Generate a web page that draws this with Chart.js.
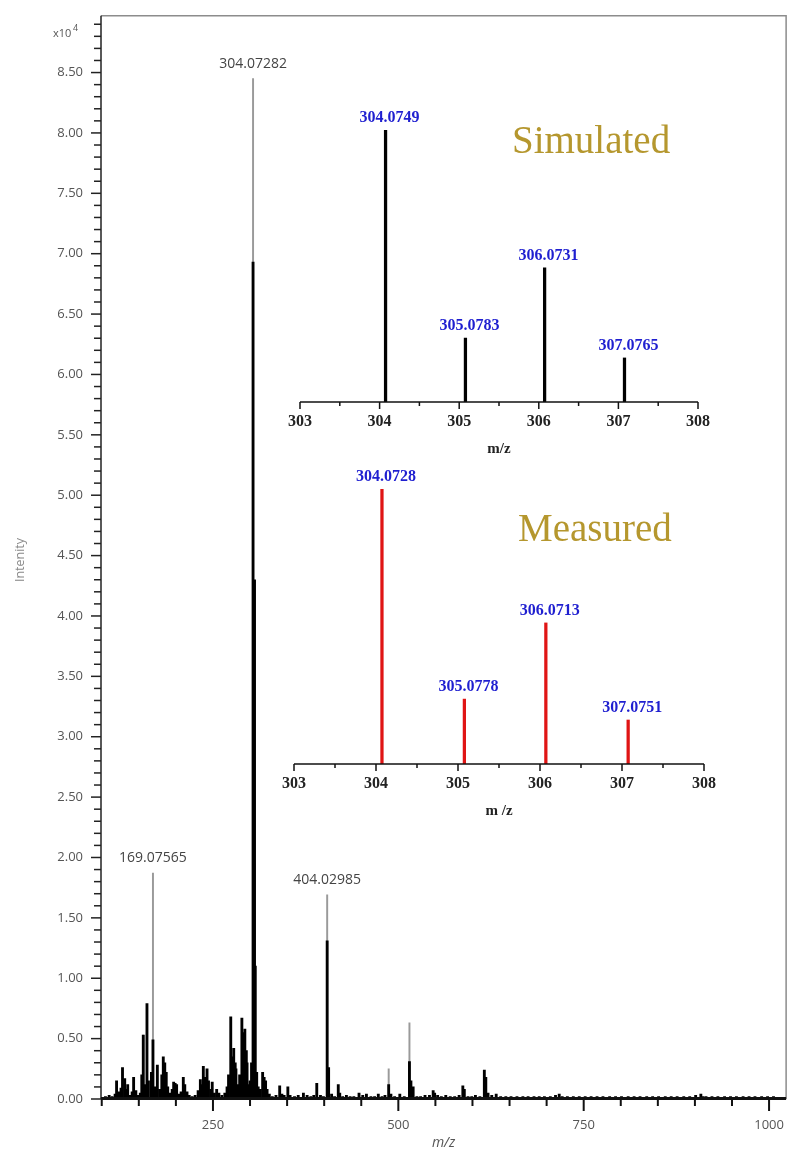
<!DOCTYPE html>
<html><head><meta charset="utf-8">
<script src="https://cdn.jsdelivr.net/npm/chart.js@4/dist/chart.umd.min.js"></script>
<style>
html,body{margin:0;padding:0;background:#fff;}
#wrap{position:relative;width:790px;height:1158px;overflow:hidden;}
canvas{position:absolute;}
</style></head><body>
<div id="wrap">
<canvas id="main" width="790" height="1158" style="left:0;top:0;width:790px;height:1158px"></canvas>
<canvas id="sim" width="460" height="370" style="left:270px;top:90px;width:460px;height:370px"></canvas>
<canvas id="meas" width="470" height="380" style="left:264px;top:450px;width:470px;height:380px"></canvas>
</div>
<script>
// ---------- DATA (intensity in units of 10^4) ----------
const mainMz = [105,110,114,118,120,123,126,128,131,133,135,138,141,143,146,149,152,154,156,158,161,163,167,169.08,172,175,178,181,183,185,187,189,192,195,197,199,201,204,207,210,212,215,218,222,226,230,233,235,237,239,242,244,247,249,252,255,258,262,266,269,271,274,276,278,280,281,284,286,289,291,293,295,296,298,300,302,304.07,305.08,306.07,307.08,309,311,314,317,319,321,323,326,330,335,340,343,346,351,354,360,365,372,377,382,386,390,395,399,404.03,406,410,414,419,421,425,430,435,440,447,452,457,463,468,473,478,482,487,490,495,502,508,515,517,520,525,530,536,542,547,549,553,558,564,570,576,582,587,589,594,599,604,610,616,618,621,626,632,638,645,652,660,668,675,683,690,697,705,712,717,721,728,736,744,752,760,768,776,785,793,801,810,818,826,835,843,851,860,868,876,885,893,901,908,911,915,923,931,940,948,956,965,973,981,990,998,1006,1014];
const mainInt = [0.02,0.03,0.02,0.04,0.15,0.06,0.09,0.26,0.17,0.08,0.12,0.03,0.06,0.18,0.07,0.03,0.05,0.20,0.53,0.12,0.79,0.15,0.22,0.49,0.10,0.28,0.08,0.20,0.35,0.30,0.22,0.10,0.05,0.08,0.14,0.13,0.12,0.04,0.06,0.18,0.12,0.06,0.03,0.02,0.03,0.07,0.16,0.12,0.27,0.18,0.25,0.15,0.08,0.14,0.05,0.08,0.05,0.03,0.05,0.10,0.20,0.68,0.35,0.42,0.30,0.25,0.12,0.20,0.67,0.55,0.58,0.40,0.30,0.12,0.15,0.30,6.93,1.95,4.30,1.10,0.22,0.10,0.08,0.22,0.18,0.15,0.08,0.04,0.02,0.03,0.11,0.04,0.03,0.10,0.03,0.02,0.03,0.05,0.03,0.02,0.03,0.13,0.03,0.02,1.31,0.26,0.04,0.02,0.12,0.05,0.02,0.03,0.02,0.02,0.05,0.03,0.04,0.02,0.02,0.04,0.02,0.03,0.12,0.04,0.02,0.04,0.02,0.31,0.15,0.10,0.02,0.02,0.03,0.03,0.07,0.05,0.03,0.02,0.03,0.02,0.02,0.03,0.11,0.08,0.02,0.02,0.03,0.02,0.24,0.18,0.05,0.03,0.04,0.02,0.02,0.02,0.02,0.02,0.02,0.02,0.02,0.02,0.02,0.03,0.04,0.02,0.02,0.02,0.02,0.02,0.02,0.02,0.02,0.02,0.02,0.02,0.02,0.02,0.02,0.02,0.02,0.02,0.02,0.02,0.02,0.02,0.02,0.03,0.04,0.02,0.02,0.02,0.02,0.02,0.02,0.02,0.02,0.02,0.02,0.02,0.02,0.02];
const apexMz  = [156, 169.08, 304.07, 404.03, 487, 515];
const apexInt = [0.53, 1.87, 8.45, 1.69, 0.25, 0.63];
const peakLabelText = ['169.07565','304.07282','404.02985'];
const peakLabelMz   = [169.08, 304.07, 404.03];
const peakLabelInt  = [1.87, 8.45, 1.69];

const simMz     = [304.0749, 305.0783, 306.0731, 307.0765];
const simInt    = [100, 23.5, 49.3, 16.2];
const simLabels = ['304.0749','305.0783','306.0731','307.0765'];
const measMz     = [304.0728, 305.0778, 306.0713, 307.0751];
const measInt    = [100, 23.6, 51.3, 16.0];
const measLabels = ['304.0728','305.0778','306.0713','307.0751'];

const mainYTicks = []; for (let i = 0; i <= 89; i++) mainYTicks.push(i / 10);
const mainXTicks = []; for (let v = 100; v <= 1000; v += 50) mainXTicks.push(v);
const insetXTicks = [303, 303.5, 304, 304.5, 305, 305.5, 306, 306.5, 307, 307.5, 308];

Chart.defaults.animation = false;
Chart.defaults.devicePixelRatio = 1;

const toXY = (xs, ys) => xs.map((x, i) => ({x: x, y: ys[i]}));

// ---------- MAIN CHART ----------
const mainDecor = {
  id: 'mainDecor',
  afterDraw(chart) {
    const {ctx, chartArea: a, scales: {x, y}} = chart;
    ctx.save();
    ctx.strokeStyle = '#8c8c8c'; ctx.lineWidth = 1.5;
    ctx.beginPath(); ctx.moveTo(a.left, a.top); ctx.lineTo(a.right, a.top); ctx.lineTo(a.right, a.bottom); ctx.stroke();
    ctx.strokeStyle = '#222'; ctx.lineWidth = 1.5;
    ctx.beginPath(); ctx.moveTo(a.left, a.top); ctx.lineTo(a.left, a.bottom); ctx.stroke();
    y.ticks.forEach((t, i) => {
      const py = y.getPixelForTick(i);
      const major = Math.abs(t.value * 2 - Math.round(t.value * 2)) < 1e-6;
      const len = major ? 10 : 7;
      ctx.beginPath(); ctx.moveTo(a.left - len, py); ctx.lineTo(a.left, py); ctx.stroke();
    });
    ctx.strokeStyle = '#111'; ctx.lineWidth = 3;
    ctx.beginPath(); ctx.moveTo(a.left, a.bottom - 0.5); ctx.lineTo(a.right, a.bottom - 0.5); ctx.stroke();
    ctx.lineWidth = 2;
    x.ticks.forEach((t, i) => {
      const px = x.getPixelForTick(i);
      const len = (t.value % 250 === 0) ? 12 : 7;
      ctx.beginPath(); ctx.moveTo(px, a.bottom); ctx.lineTo(px, a.bottom + len); ctx.stroke();
    });
    ctx.fillStyle = '#444'; ctx.font = '14px "Open Sans"'; ctx.textAlign = 'center'; ctx.textBaseline = 'middle';
    peakLabelText.forEach((s, i) => {
      ctx.fillText(s, x.getPixelForValue(peakLabelMz[i]), y.getPixelForValue(peakLabelInt[i]) - 15);
    });
    ctx.fillStyle = '#555'; ctx.font = '11px "Open Sans"'; ctx.textAlign = 'left';
    ctx.fillText('x10', 53, 34);
    ctx.font = '9px "Open Sans"'; ctx.fillText('4', 73, 28);
    ctx.fillStyle = '#555'; ctx.font = 'italic 14px "Open Sans"'; ctx.textAlign = 'center';
    ctx.fillText('m/z', (a.left + a.right) / 2, 1143);
    ctx.save(); ctx.translate(20, 560); ctx.rotate(-Math.PI / 2);
    ctx.fillStyle = '#888'; ctx.font = '12.5px "Open Sans"'; ctx.fillText('Intenity', 0, 0);
    ctx.restore();
    ctx.restore();
  }
};

new Chart(document.getElementById('main'), {
  type: 'bar',
  data: {
    datasets: [
      {data: toXY(mainMz, mainInt), backgroundColor: '#000', barThickness: 2.2, grouped: false, order: 1},
      {data: toXY(apexMz, apexInt), backgroundColor: '#9a9a9a', barThickness: 1.3, grouped: false, order: 2}
    ]
  },
  options: {
    responsive: false,
    layout: {padding: {left: 0, top: 14, right: 3, bottom: 0}},
    plugins: {legend: {display: false}, tooltip: {enabled: false}},
    scales: {
      x: {
        type: 'linear', min: 99, max: 1023, offset: false,
        afterBuildTicks: s => { s.ticks = mainXTicks.map(v => ({value: v})); },
        afterFit: s => { s.height = 59; },
        border: {display: false},
        grid: {display: true, drawOnChartArea: false, drawTicks: true, tickLength: 12, tickColor: 'rgba(0,0,0,0)'},
        ticks: {autoSkip: false, maxRotation: 0, padding: 6, color: '#555', font: {family: 'Open Sans', size: 13},
          callback: v => (v % 250 === 0 ? String(v) : '')}
      },
      y: {
        type: 'linear', min: 0, max: 8.97,
        afterBuildTicks: s => { s.ticks = mainYTicks.map(v => ({value: v})); },
        afterFit: s => { s.width = 101; },
        border: {display: false},
        grid: {display: true, drawOnChartArea: false, drawTicks: true, tickLength: 10, tickColor: 'rgba(0,0,0,0)'},
        ticks: {autoSkip: false, padding: 8, color: '#555', font: {family: 'Open Sans', size: 13},
          callback: v => (Math.abs(v * 2 - Math.round(v * 2)) < 1e-6 ? v.toFixed(2) : '')}
      }
    }
  },
  plugins: [mainDecor]
});

// ---------- INSETS ----------
function insetDecor(labels, title, titlePos, mzTitle) {
  return {
    id: 'insetDecor',
    afterDraw(chart) {
      const {ctx, chartArea: a, scales: {x}} = chart;
      ctx.save();
      ctx.strokeStyle = '#111'; ctx.lineWidth = 1.5;
      ctx.beginPath(); ctx.moveTo(a.left, a.bottom); ctx.lineTo(a.right, a.bottom); ctx.stroke();
      x.ticks.forEach((t, i) => {
        const px = x.getPixelForTick(i);
        const len = Number.isInteger(t.value) ? 7 : 4;
        ctx.beginPath(); ctx.moveTo(px, a.bottom); ctx.lineTo(px, a.bottom + len); ctx.stroke();
      });
      const meta = chart.getDatasetMeta(0);
      ctx.fillStyle = '#1f1fd0'; ctx.font = 'bold 16px "Liberation Serif"'; ctx.textAlign = 'center'; ctx.textBaseline = 'middle';
      meta.data.forEach((el, i) => { ctx.fillText(labels[i], el.x + 4, el.y - 12); });
      ctx.fillStyle = '#222'; ctx.font = 'bold 15px "Liberation Serif"';
      ctx.fillText(mzTitle, (a.left + a.right) / 2, a.bottom + 47);
      ctx.fillStyle = '#b5972e'; ctx.font = '39px "Liberation Serif"'; ctx.textAlign = 'left'; ctx.textBaseline = 'alphabetic';
      ctx.fillText(title, titlePos[0], titlePos[1]);
      ctx.restore();
    }
  };
}

function makeInset(id, mz, inten, color, pad, xHeight, labels, title, titlePos, mzTitle) {
  new Chart(document.getElementById(id), {
    type: 'bar',
    data: {datasets: [{data: toXY(mz, inten), backgroundColor: color, barThickness: 2.6, grouped: false}]},
    options: {
      responsive: false,
      layout: {padding: pad},
      plugins: {legend: {display: false}, tooltip: {enabled: false}},
      scales: {
        x: {
          type: 'linear', min: 303, max: 308, offset: false,
          afterBuildTicks: s => { s.ticks = insetXTicks.map(v => ({value: v})); },
          afterFit: s => { s.height = xHeight; },
          border: {display: false},
          grid: {display: true, drawOnChartArea: false, drawTicks: true, tickLength: 8, tickColor: 'rgba(0,0,0,0)'},
          ticks: {autoSkip: false, maxRotation: 0, padding: 2, color: '#222', font: {family: 'Liberation Serif', size: 16, weight: 'bold'},
            callback: v => (Number.isInteger(v) ? String(v) : '')}
        },
        y: {display: false, min: 0, max: 100}
      }
    },
    plugins: [insetDecor(labels, title, titlePos, mzTitle)]
  });
}

makeInset('sim', simMz, simInt, '#000', {left: 30, right: 32, top: 40, bottom: 0}, 58, simLabels, 'Simulated', [242, 63], 'm/z');
makeInset('meas', measMz, measInt, '#e01515', {left: 30, right: 30, top: 39, bottom: 0}, 66, measLabels, 'Measured', [254, 91], 'm /z');
</script>
</body></html>
